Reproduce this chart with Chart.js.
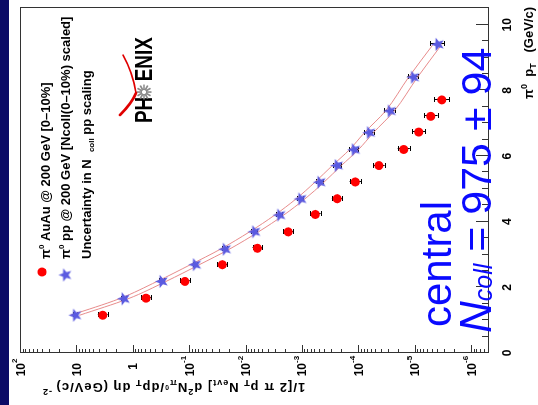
<!DOCTYPE html>
<html><head><meta charset="utf-8">
<script src="https://cdn.jsdelivr.net/npm/chart.js@4.4.0/dist/chart.umd.min.js"></script>
<style>
html,body{margin:0;padding:0;background:#fff;overflow:hidden;width:538px;height:405px}
#wrap{position:absolute;left:0;top:0;width:405px;height:538px;transform-origin:0 0;transform:translate(0,405px) rotate(-90deg)}
canvas{display:block}
</style></head><body>
<div id="wrap"><canvas id="c" width="405" height="538"></canvas></div>
<script>
// ---- data ----
const auauPt    = [1.15, 1.67, 2.18, 2.69, 3.19, 3.69, 4.22, 4.70, 5.21, 5.71, 6.20, 6.73, 7.21, 7.71];
const auauYield = [3.41, 0.583, 0.119, 0.0258, 6.15e-3, 1.75e-3, 5.77e-4, 2.37e-4, 1.13e-4, 4.30e-5, 1.56e-5, 8.45e-6, 5.17e-6, 3.29e-6];
const auauErr   = [0.22, 0.22, 0.22, 0.22, 0.22, 0.22, 0.24, 0.24, 0.26, 0.26, 0.28, 0.30, 0.32, 0.36];
const ppPt      = [1.15, 1.65, 2.18, 2.69, 3.16, 3.69, 4.20, 4.69, 5.20, 5.71, 6.19, 6.71, 7.37, 8.40, 9.40];
const ppYield   = [10.6, 1.46, 0.310, 0.0792, 0.0234, 7.05e-3, 2.53e-3, 1.07e-3, 4.90e-4, 2.41e-4, 1.20e-4, 6.48e-5, 2.77e-5, 1.07e-5, 3.95e-6];
const ppErr     = [0.10, 0.10, 0.10, 0.10, 0.10, 0.12, 0.12, 0.14, 0.16, 0.18, 0.20, 0.22, 0.25, 0.25, 0.33];
const bandHi    = [12.7, 1.75, 0.372, 0.095, 0.0281, 8.5e-3, 3.04e-3, 1.28e-3, 5.9e-4, 2.89e-4, 1.44e-4, 7.8e-5, 3.3e-5, 1.28e-5, 4.7e-6];
const bandLo    = [8.8, 1.22, 0.258, 0.066, 0.0195, 5.9e-3, 2.11e-3, 8.9e-4, 4.08e-4, 2.0e-4, 1.0e-4, 5.4e-5, 2.31e-5, 8.9e-6, 3.3e-6];
const ptTicks      = [0, 2, 4, 6, 8, 10];
const ptTickLabels = ['0', '2', '4', '6', '8', '10'];
const logTicks     = [1e2, 1e1, 1, 1e-1, 1e-2, 1e-3, 1e-4, 1e-5, 1e-6];
const logTickBase  = ['10', '10', '1', '10', '10', '10', '10', '10', '10'];
const logTickExp   = ['2', '', '', '-1', '-2', '-3', '-4', '-5', '-6'];
const legendLine1  = ' AuAu @ 200 GeV [0\u201310%]';
const legendLine2  = ' pp @ 200 GeV [Ncoll(0\u201310%) scaled]';
const legendLine3a = 'Uncertainty in N  ';
const legendLine3b = 'coll';
const legendLine3c = ' pp scaling';
const bigText1 = 'central';
const bigText2 = ' = 975 \u00b1 94';

const FONT = '"Liberation Sans", Arial, Helvetica, sans-serif';
const STAR_COLOR = '#5a5ae0';
const RED = '#ff0000';

function makeStar(size, color) {
  const c = document.createElement('canvas'); c.width = c.height = size;
  const g = c.getContext('2d'); const cx = size / 2, cy = size / 2 + 0.5, R = size / 2 - 0.5, r = R * 0.42;
  g.beginPath();
  for (let i = 0; i < 10; i++) { const a = -Math.PI / 2 + i * Math.PI / 5; const rr = i % 2 ? r : R; g.lineTo(cx + rr * Math.cos(a), cy + rr * Math.sin(a)); }
  g.closePath(); g.fillStyle = color; g.fill();
  return c;
}
const starImg = makeStar(15, STAR_COLOR);

function rich(ctx, parts, x, y, align) {
  let w = 0;
  parts.forEach(p => { ctx.font = (p[3] || 'bold') + ' ' + p[1] + 'px ' + FONT; p.w = ctx.measureText(p[0]).width; w += p.w; });
  let cx = align === 'right' ? x - w : align === 'center' ? x - w / 2 : x;
  parts.forEach(p => { ctx.font = (p[3] || 'bold') + ' ' + p[1] + 'px ' + FONT; ctx.fillText(p[0], cx, y + (p[2] || 0)); cx += p.w; });
  return w;
}
function measure(ctx, parts) {
  let w = 0;
  parts.forEach(p => { ctx.font = (p[3] || 'bold') + ' ' + p[1] + 'px ' + FONT; w += ctx.measureText(p[0]).width; });
  return w;
}

const deco = {
  id: 'deco',
  beforeDraw(chart) {
    const ctx = chart.ctx; ctx.save();
    ctx.fillStyle = '#fff'; ctx.fillRect(0, 0, chart.width, chart.height);
    ctx.fillStyle = '#0b0b66'; ctx.fillRect(0, 0, chart.width, 9);
    ctx.restore();
  },
  beforeDatasetsDraw(chart) {
    const ctx = chart.ctx, xs = chart.scales.x, ys = chart.scales.y;
    ctx.save(); ctx.strokeStyle = '#000'; ctx.lineWidth = 1;
    const bars = (pts, vals, errs) => pts.forEach((p, i) => {
      const px = Math.round(xs.getPixelForValue(p)) + 0.5;
      const y1 = ys.getPixelForValue(vals[i] * (1 + errs[i])), y2 = ys.getPixelForValue(vals[i] / (1 + errs[i]));
      ctx.beginPath(); ctx.moveTo(px, y1); ctx.lineTo(px, y2);
      ctx.moveTo(px - 2.5, Math.round(y1) + 0.5); ctx.lineTo(px + 2.5, Math.round(y1) + 0.5);
      ctx.moveTo(px - 2.5, Math.round(y2) + 0.5); ctx.lineTo(px + 2.5, Math.round(y2) + 0.5);
      ctx.stroke();
    });
    bars(auauPt, auauYield, auauErr);
    bars(ppPt, ppYield, ppErr);
    ctx.restore();
  },
  afterDatasetsDraw(chart) {
    const ctx = chart.ctx, xs = chart.scales.x, ys = chart.scales.y, a = chart.chartArea;
    ctx.save();
    // frame
    ctx.strokeStyle = '#333'; ctx.lineWidth = 1;
    ctx.strokeRect(Math.round(a.left) + 0.5, Math.round(a.top) + 0.5, Math.round(a.right - a.left), Math.round(a.bottom - a.top));
    // log axis ticks (left)
    ctx.beginPath();
    for (let d = -7; d <= 2; d++) for (let m = 1; m <= 9; m++) {
      const v = m * Math.pow(10, d);
      if (v < ys.min * 0.999 || v > ys.max * 1.001) continue;
      const py = Math.round(ys.getPixelForValue(v)) + 0.5;
      const len = m === 1 ? 8 : 4;
      ctx.moveTo(a.left, py); ctx.lineTo(a.left + len, py);
    }
    // pT axis ticks (bottom)
    for (let t = 0; t <= 10.5; t += 0.5) {
      const px = Math.round(xs.getPixelForValue(t)) + 0.5;
      const len = (Math.abs(t % 2) < 1e-6) ? 12 : 6;
      ctx.moveTo(px, a.bottom); ctx.lineTo(px, a.bottom - len);
    }
    ctx.stroke();
    ctx.fillStyle = '#000';
    // log tick labels
    logTicks.forEach((v, i) => {
      const py = ys.getPixelForValue(v);
      ctx.textAlign = 'left';
      ctx.font = 'bold 12px ' + FONT;
      const bw = ctx.measureText(logTickBase[i]).width;
      ctx.fillText(logTickBase[i], 42 - bw, py + 4.5);
      if (logTickExp[i]) { ctx.font = 'bold 8px ' + FONT; ctx.fillText(logTickExp[i], 42, py - 3); }
    });
    // pT tick labels
    ctx.font = 'bold 12px ' + FONT; ctx.textAlign = 'center';
    ptTicks.forEach((t, i) => ctx.fillText(ptTickLabels[i], xs.getPixelForValue(t), 511));
    ctx.textAlign = 'left';
    // pT title
    rich(ctx, [['\u03c0', 13], ['0', 9, -6], ['  p', 13], ['T', 9, 3], ['   (GeV/c)', 13]], 398, 533, 'right');
    // y title (rotated)
    const yt = [['1/[2 \u03c0 p', 13], ['T', 9, 3], [' N', 13], ['evt', 9, 3], ['] d', 13], ['2', 9, -6], ['N', 13], ['\u03c0', 9, 3], ['0', 7, -2],
      ['/dp', 13], ['T', 9, 3], [' d\u03b7 (GeV/c)', 13], [' -2', 9, -6]];
    ctx.save();
    ctx.letterSpacing = '1px';
    const yw = measure(ctx, yt) + 25;
    ctx.translate(22, 17 + yw); ctx.rotate(-Math.PI / 2);
    rich(ctx, yt, 0, 0, 'left');
    ctx.restore();
    // legend
    ctx.fillStyle = RED; ctx.beginPath(); ctx.arc(133, 42, 4.5, 0, Math.PI * 2); ctx.fill();
    ctx.drawImage(starImg, 130 - 7.5, 65 - 7.5);
    ctx.fillStyle = '#000';
    rich(ctx, [['\u03c0', 13], ['0', 8, -6], [legendLine1, 13]], 146, 50, 'left');
    rich(ctx, [['\u03c0', 13], ['0', 8, -6], [legendLine2, 13]], 146, 70, 'left');
    rich(ctx, [[legendLine3a, 13], [legendLine3b, 8, 3], [legendLine3c, 13]], 146, 91, 'left');
    // PHENIX logo
    ctx.save();
    ctx.translate(282, 152); ctx.scale(0.82, 1);
    ctx.font = 'bold 23px ' + FONT;
    ctx.fillText('PH', 0, 0);
    const wPH = ctx.measureText('PH').width;
    ctx.fillText('ENIX', wPH + 19, 0);
    ctx.restore();
    // asterisk
    ctx.save(); ctx.strokeStyle = '#8a8a8a'; ctx.lineWidth = 1.6;
    const acx = 282 + 0.82 * 28 + 8, acy = 144;
    ctx.beginPath();
    for (let k = 0; k < 12; k++) { const an = k * Math.PI / 6; ctx.moveTo(acx + 2 * Math.cos(an), acy + 2 * Math.sin(an)); ctx.lineTo(acx + 7.5 * Math.cos(an), acy + 7.5 * Math.sin(an)); }
    ctx.stroke();
    // red swoosh
    ctx.strokeStyle = '#e00000'; ctx.lineCap = 'round';
    ctx.lineWidth = 2.6; ctx.beginPath(); ctx.moveTo(290, 120); ctx.quadraticCurveTo(302, 132, acx - 1, 136); ctx.stroke();
    ctx.lineWidth = 1.5; ctx.beginPath(); ctx.moveTo(acx - 1, 136); ctx.quadraticCurveTo(332, 133, 350, 123); ctx.stroke();
    ctx.restore();
    // big blue text
    ctx.fillStyle = '#0a0aff';
    ctx.font = '42px ' + FONT; ctx.fillText(bigText1, 78, 451);
    rich(ctx, [['N', 44, 0, 'italic'], ['coll', 25, 1, 'italic'], [bigText2, 43, 0, 'normal']], 72, 491, 'left');
    ctx.restore();
  }
};

new Chart(document.getElementById('c'), {
  type: 'scatter',
  data: {
    datasets: [
      { label: 'pp', data: ppPt.map((x, i) => ({ x, y: ppYield[i] })), pointStyle: starImg, pointRadius: 7, showLine: false },
      { label: 'AuAu', data: auauPt.map((x, i) => ({ x, y: auauYield[i] })), pointStyle: 'circle', pointRadius: 4.5, backgroundColor: RED, borderColor: RED, borderWidth: 0, showLine: false },
      { label: 'hi', data: ppPt.map((x, i) => ({ x, y: bandHi[i] })), showLine: true, borderColor: '#e88c8c', borderWidth: 1, pointRadius: 0, cubicInterpolationMode: 'monotone', fill: false },
      { label: 'lo', data: ppPt.map((x, i) => ({ x, y: bandLo[i] })), showLine: true, borderColor: '#e88c8c', borderWidth: 1, pointRadius: 0, cubicInterpolationMode: 'monotone', fill: false }
    ]
  },
  options: {
    responsive: false, animation: false, devicePixelRatio: 1,
    layout: { padding: { left: 52, right: 5, top: 20, bottom: 50 } },
    scales: {
      x: { type: 'linear', min: 0, max: 10.51, display: false },
      y: { type: 'logarithmic', min: 5e-7, max: 100, display: false }
    },
    plugins: { legend: { display: false }, tooltip: { enabled: false } },
    events: []
  },
  plugins: [deco]
});
</script>
</body></html>
